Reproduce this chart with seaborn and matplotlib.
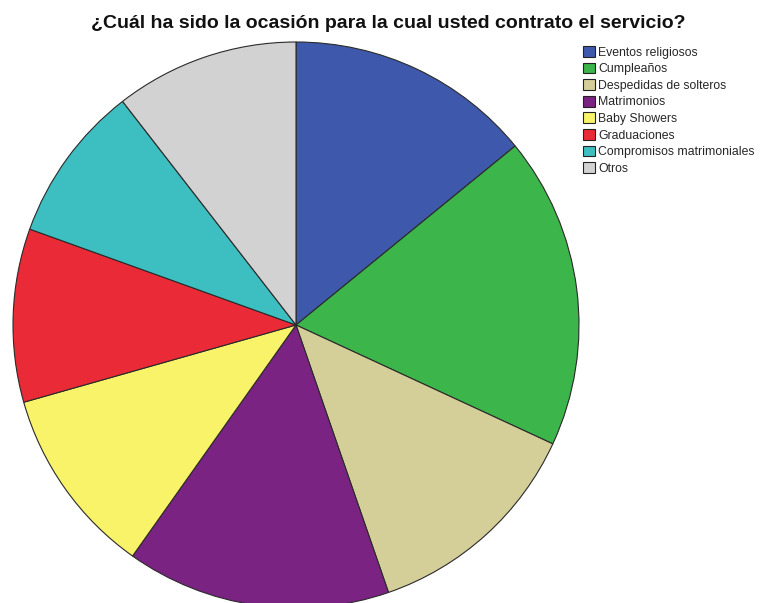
import matplotlib
matplotlib.use("Agg")
import matplotlib.pyplot as plt
import seaborn as sns
from matplotlib.patches import Patch

sns.set_theme(style="white")
plt.rcParams["font.family"] = ["Liberation Sans", "DejaVu Sans"]

# Occasion categories and their share of responses (%)
categories = [
    "Eventos religiosos",
    "Cumpleaños",
    "Despedidas de solteros",
    "Matrimonios",
    "Baby Showers",
    "Graduaciones",
    "Compromisos matrimoniales",
    "Otros",
]
shares = [14.1, 17.8, 12.8, 15.1, 10.8, 9.9, 9.0, 10.5]
colors = ["#3e58ac", "#3cb54a", "#d4cf98", "#7b2383", "#f8f368",
          "#ea2a36", "#3dbfc1", "#d2d2d2"]

title = "¿Cuál ha sido la ocasión para la cual usted contrato el servicio?"

W, H = 763, 603
fig = plt.figure(figsize=(W / 100, H / 100), dpi=100)
fig.patch.set_facecolor("white")

# square axes holding the pie (pixel box 13..579 wide, 42..608 tall)
ax = fig.add_axes([13 / W, (H - 608) / H, 566 / W, 566 / H])
ax.pie(
    shares,
    colors=colors,
    startangle=90,
    counterclock=False,
    radius=1.0,
    wedgeprops=dict(edgecolor="#2a2a2a", linewidth=0.8),
)
ax.set_xlim(-1.0, 1.0)
ax.set_ylim(-1.0, 1.0)
ax.set_aspect("auto")
ax.axis("off")

fig.text(388 / W, 1 - 23 / H, title, ha="center", va="center",
         fontsize=14, fontweight="bold", color="#111111")

handles = [Patch(facecolor=c, edgecolor="#222222", linewidth=0.8) for c in colors]
fig.legend(
    handles, categories,
    loc="upper left",
    bbox_to_anchor=(583 / W, 1 - 46 / H),
    frameon=False,
    fontsize=8.8,
    handlelength=0.95,
    handleheight=0.98,
    handletextpad=0.3,
    labelspacing=0.33,
    borderaxespad=0.0,
    borderpad=0.0,
)

fig.savefig("out.png", dpi=100, facecolor="white")
